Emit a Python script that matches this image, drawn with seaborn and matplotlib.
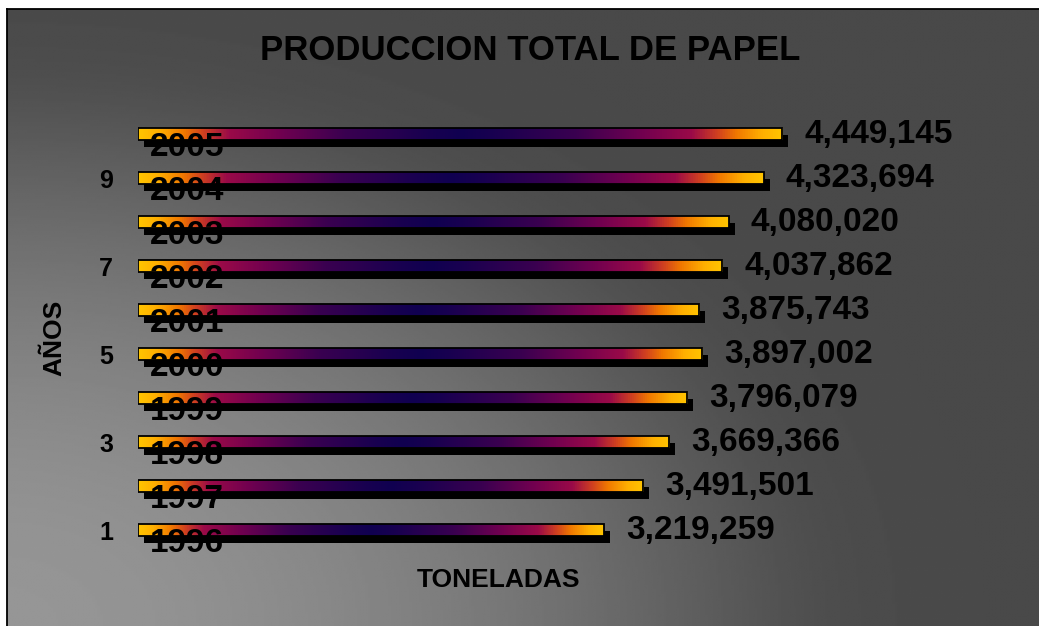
import numpy as np
import pandas as pd
import matplotlib
matplotlib.use("Agg")
import matplotlib.pyplot as plt
import matplotlib.transforms as mtransforms
from matplotlib.colors import LinearSegmentedColormap
from matplotlib.patches import Rectangle
import seaborn as sns

# Paper production per year (tonnes)
years = [1996, 1997, 1998, 1999, 2000, 2001, 2002, 2003, 2004, 2005]
positions = [1, 2, 3, 4, 5, 6, 7, 8, 9, 10]
tonnes = [3219259, 3491501, 3669366, 3796079, 3897002,
          3875743, 4037862, 4080020, 4323694, 4449145]
y_ticks = [1, 3, 5, 7, 9]

sns.set_theme(style="white")
plt.rcParams["font.family"] = ["Liberation Sans", "DejaVu Sans"]

W, H, DPI = 1039, 626, 100
fig = plt.figure(figsize=(W / DPI, H / DPI), dpi=DPI, facecolor="white")

# ---- framed grey panel, lighter towards the bottom-left corner ----
bg = fig.add_axes([7 / W, -0.02, 1.0, 617 / H + 0.02])
gx = np.linspace(0, W, 400)
gy = np.linspace(0, H, 300)
GX, GY = np.meshgrid(gx, gy)
r = np.sqrt((GX / 822.0) ** 2 + (GY / 554.0) ** 2)
g = 1 - r ** 1.84
eps = 0.02
soft = 0.5 * (g + np.sqrt(g ** 2 + eps))          # smooth clip at zero
soft = (soft - soft.min()) / (soft.max() - soft.min())
shade = (73 + 77 * soft) / 255.0
bg.imshow(shade, extent=(0, W, 0, H), origin="lower", cmap="gray",
          vmin=0, vmax=1, aspect="auto", interpolation="bilinear")
bg.set_xlim(7, 7 + W)
bg.set_ylim(-0.02 * H, 617)
bg.set_xticks([])
bg.set_yticks([])
for side in ["right", "bottom"]:
    bg.spines[side].set_visible(False)
for side in ["left", "top"]:
    bg.spines[side].set_visible(True)
    bg.spines[side].set_color("black")
    bg.spines[side].set_linewidth(1.3)

# ---- bar chart ----
ax = fig.add_axes([138 / W, (H - 574) / H, 700 / W, 484 / H])
ax.set_facecolor("none")
df = pd.DataFrame({"pos": positions, "tons": tonnes})
sns.barplot(data=df, x="tons", y="pos", orient="h", native_scale=True,
            width=0.27, color="black", errorbar=None, ax=ax)

bar_cmap = LinearSegmentedColormap.from_list("paper", [
    (0.00, "#ffc400"), (0.03, "#ffb000"), (0.07, "#f07800"),
    (0.10, "#d04020"), (0.14, "#9a0a48"), (0.22, "#700050"),
    (0.32, "#3a0050"), (0.45, "#180050"), (0.50, "#100050"),
    (0.55, "#180050"), (0.68, "#3a0050"), (0.78, "#700050"),
    (0.86, "#9a0a48"), (0.90, "#d04020"), (0.93, "#f07800"),
    (0.97, "#ffb000"), (1.00, "#ffc400"),
])
ramp = np.linspace(0, 1, 512)[np.newaxis, :]
shadow_shift = mtransforms.ScaledTranslation(6 / DPI, -7 / DPI, fig.dpi_scale_trans)

for patch in list(ax.patches):
    x0, y0 = patch.get_x(), patch.get_y()
    w, h = patch.get_width(), patch.get_height()
    shadow = Rectangle((x0, y0), w, h, facecolor="black", edgecolor="none",
                       transform=ax.transData + shadow_shift, zorder=2)
    ax.add_patch(shadow)
    img = ax.imshow(ramp, extent=(x0, x0 + w, y0, y0 + h), cmap=bar_cmap,
                    aspect="auto", interpolation="bilinear", zorder=3)
    img.set_clip_path(patch)
    patch.set_facecolor("none")
    patch.set_edgecolor("black")
    patch.set_linewidth(1.3)
    patch.set_zorder(4)

for year, pos, val in zip(years, positions, tonnes):
    ax.annotate(str(year), xy=(0, pos), xytext=(12, -14),
                textcoords="offset pixels", ha="left", va="center",
                fontsize=24, fontweight="bold", color="black", zorder=6)
    ax.annotate(f"{val:,}", xy=(val, pos), xytext=(22, -1),
                textcoords="offset pixels", ha="left", va="center",
                fontsize=24, fontweight="bold", color="black", zorder=6)

ax.set_xlim(0, 700 / 1.4475e-4)
ax.set_ylim(0, 11)
ax.set_xticks([])
ax.set_yticks(y_ticks)
ax.set_yticklabels([str(t) for t in y_ticks], fontsize=18, fontweight="bold",
                   color="black")
ax.tick_params(axis="y", length=0, pad=18)
for s in ax.spines.values():
    s.set_visible(False)

ax.set_xlabel("TONELADAS", fontsize=19, fontweight="bold", color="black",
              va="center")
ax.xaxis.set_label_coords((499 - 138) / 700, (574 - 580) / 484)
ax.set_ylabel("AÑOS", fontsize=19, fontweight="bold", color="black",
              va="center")
ax.yaxis.set_label_coords((54 - 138) / 700, (574 - 338) / 484)

fig.text(530 / W, 1 - 51 / H, "PRODUCCION TOTAL DE PAPEL", ha="center",
         va="center", fontsize=25, fontweight="bold", color="black")

fig.savefig("out.png", dpi=DPI, facecolor="white")
